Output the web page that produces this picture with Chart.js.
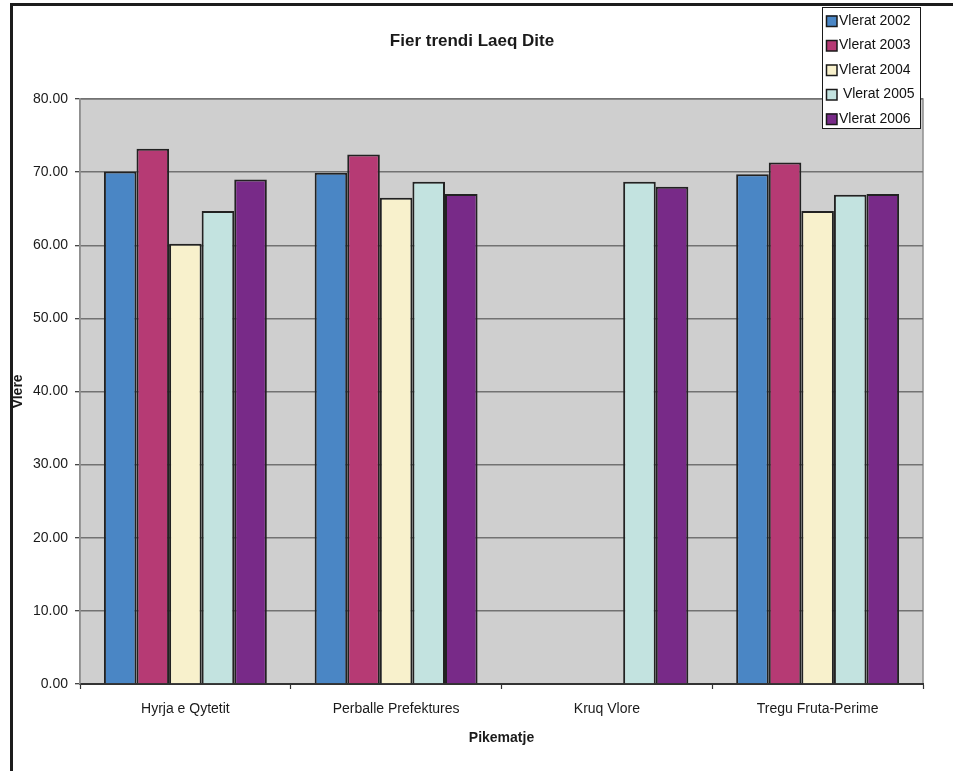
<!DOCTYPE html>
<html>
<head>
<meta charset="utf-8">
<script src="https://cdn.jsdelivr.net/npm/chart.js@4/dist/chart.umd.min.js"></script>
<style>
  html, body { margin: 0; padding: 0; background: #ffffff; }
  #wrap { position: relative; width: 953px; height: 771px; overflow: hidden; }
  #frame { position: absolute; left: 10px; top: 3px; width: 960px; height: 800px;
           border-left: 3px solid #1c1c1c; border-top: 3px solid #1c1c1c; box-sizing: border-box; }
  #chart { position: absolute; left: 0; top: 0; }
</style>
</head>
<body>
<div id="wrap">
  <div id="frame"></div>
  <canvas id="chart" width="953" height="771"></canvas>
</div>
<script>
// Measurement points and yearly daytime Laeq values
const categories = ['Hyrja e Qytetit', 'Perballe Prefektures', 'Kruq Vlore', 'Tregu Fruta-Perime'];
const seriesLabels = ['Vlerat 2002', 'Vlerat 2003', 'Vlerat 2004', ' Vlerat 2005', 'Vlerat 2006'];
const vlerat2002 = [70.1, 69.9, null, 69.7];
const vlerat2003 = [73.2, 72.4, null, 71.3];
const vlerat2004 = [60.2, 66.5, null, 64.7];
const vlerat2005 = [64.7, 68.7, 68.7, 66.9];
const vlerat2006 = [69.0, 67.0, 68.0, 67.0];
const yTicks = [0, 10, 20, 30, 40, 50, 60, 70, 80];

const seriesValues = [vlerat2002, vlerat2003, vlerat2004, vlerat2005, vlerat2006];
const seriesColors = ['#4a86c5', '#b63a74', '#f8f1cc', '#c3e3e0', '#782a88'];

const FONT = "'Liberation Sans', Arial, sans-serif";

// Grey plot background with a thin border
const plotBackground = {
  id: 'plotBackground',
  beforeDraw(chart) {
    const { ctx, chartArea: a } = chart;
    ctx.save();
    ctx.fillStyle = '#cfcfcf';
    ctx.fillRect(a.left, a.top, a.right - a.left, a.bottom - a.top);
    ctx.strokeStyle = '#8f8f8f';
    ctx.lineWidth = 1.5;
    ctx.strokeRect(a.left, a.top, a.right - a.left, a.bottom - a.top);
    ctx.restore();
  }
};

// Boxed legend in the upper right corner, overlapping the plot
const boxLegend = {
  id: 'boxLegend',
  afterDraw(chart) {
    const { ctx } = chart;
    const x = 822, y = 7, w = 98, h = 121;
    ctx.save();
    ctx.fillStyle = '#ffffff';
    ctx.fillRect(x, y, w, h);
    ctx.strokeStyle = '#1a1a1a';
    ctx.lineWidth = 1;
    ctx.strokeRect(x + 0.5, y + 0.5, w, h);
    ctx.font = '14px ' + FONT;
    ctx.textBaseline = 'middle';
    chart.data.datasets.forEach((ds, i) => {
      const cy = y + 14 + i * 24.5;
      ctx.fillStyle = ds.backgroundColor;
      ctx.fillRect(x + 4, cy - 5.5, 11, 11);
      ctx.strokeStyle = '#1a1a1a';
      ctx.lineWidth = 1.5;
      ctx.strokeRect(x + 4.5, cy - 5, 10.5, 10.5);
      ctx.fillStyle = '#111111';
      ctx.fillText(ds.label, x + 17, cy);
    });
    ctx.restore();
  }
};

new Chart(document.getElementById('chart'), {
  type: 'bar',
  data: {
    labels: categories,
    datasets: seriesValues.map((vals, i) => ({
      label: seriesLabels[i],
      data: vals,
      backgroundColor: seriesColors[i],
      borderColor: '#222222',
      borderWidth: 2,
      categoryPercentage: 0.773,
      barPercentage: 1.0
    }))
  },
  options: {
    responsive: false,
    animation: false,
    layout: { padding: { left: 21, right: 30, top: 0, bottom: 0 } },
    plugins: {
      legend: { display: false },
      tooltip: { enabled: false },
      title: {
        display: true,
        text: 'Fier trendi Laeq Dite',
        color: '#1a1a1a',
        font: { family: FONT, size: 17, weight: 'bold', lineHeight: 1.2 },
        padding: { top: 31, bottom: 47.6 }
      }
    },
    scales: {
      x: {
        offset: true,
        grid: {
          offset: true,
          drawOnChartArea: false,
          drawTicks: true,
          tickLength: 5,
          tickColor: '#333333',
          tickWidth: 1.2
        },
        border: { display: true, color: '#333333', width: 2 },
        ticks: {
          color: '#1a1a1a',
          padding: 12,
          maxRotation: 0,
          font: { family: FONT, size: 14 }
        },
        title: {
          display: true,
          text: 'Pikematje',
          color: '#1a1a1a',
          font: { family: FONT, size: 14, weight: 'bold', lineHeight: 1.2 },
          padding: { top: 0, bottom: 24.6 }
        },
        afterFit(scale) { scale.height = 87; }
      },
      y: {
        min: 0,
        max: 80,
        afterBuildTicks(scale) { scale.ticks = yTicks.map(v => ({ value: v })); },
        grid: {
          color: '#727272',
          lineWidth: 1.4,
          drawTicks: true,
          tickLength: 5,
          tickColor: '#333333',
          tickWidth: 1.2
        },
        border: { display: true, color: '#8f8f8f', width: 1.5 },
        ticks: {
          color: '#1a1a1a',
          padding: 7,
          font: { family: FONT, size: 14 },
          callback: v => Number(v).toFixed(2)
        },
        title: {
          display: true,
          text: 'Vlere',
          color: '#1a1a1a',
          font: { family: FONT, size: 14, weight: 'bold', lineHeight: 1.2 },
          padding: { top: -11.4, bottom: 0 }
        },
        afterFit(scale) { scale.width = 59; }
      }
    }
  },
  plugins: [plotBackground, boxLegend]
});
</script>
</body>
</html>
